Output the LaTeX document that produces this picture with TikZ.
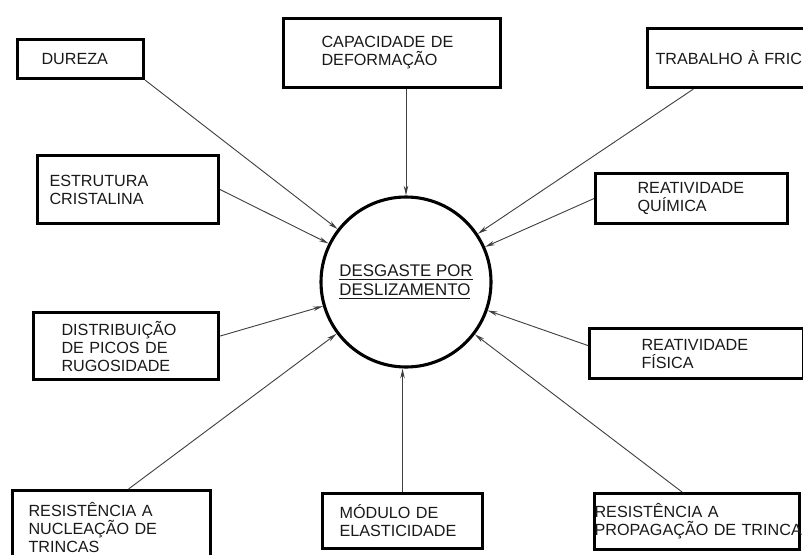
\documentclass[tikz,border=0pt]{standalone}
\usepackage{fontspec}
\setmainfont{Liberation Sans}
\usetikzlibrary{arrows.meta}
\newdimen\upx \upx=0.025cm
\tikzset{
  caixa/.style={draw, line width=2.2pt, anchor=north west, align=left, inner ysep=0pt,
    text=black!90, font=\fontsize{11.5}{12.8}\selectfont},
  tam/.style n args={4}{minimum width=#1\upx, minimum height=#2\upx, inner xsep=#3\upx, text width=#4\upx},
  seta/.style={-{Stealth[length=7pt,width=3.2pt]}, line width=0.65pt, draw=black!75},
}
\begin{document}
\begin{tikzpicture}[x=0.025cm, y=-0.025cm]
\useasboundingbox (0,0) rectangle (803,554);
\clip (0,0) rectangle (803,554);
% circulo central
\node[circle, draw, line width=2.2pt, minimum size=170\upx, align=left, text=black!90,
  font=\fontsize{12}{13.5}\selectfont] (desg) at (406,282)
  {\underline{DESGASTE POR}\\\underline{DESLIZAMENTO}};
% caixas em volta
\node[caixa, tam={126}{39}{24}{78}] (dureza) at (16,38) {DUREZA};
\node[caixa, tam={217}{69}{38}{141}] (cap) at (282,17) {CAPACIDADE DE\\DEFORMAÇÃO};
\node[caixa, tam={184}{59}{8}{168}] (trab) at (646,27) {TRABALHO À FRIC};
\node[caixa, tam={181}{68}{12}{157}] (estr) at (36,154) {ESTRUTURA\\CRISTALINA};
\node[caixa, tam={192}{50}{42}{108}] (quim) at (594,172) {REATIVIDADE\\QUÍMICA};
\node[caixa, tam={185}{67}{28}{129}] (distr) at (32,311) {DISTRIBUIÇÃO\\DE PICOS DE\\RUGOSIDADE};
\node[caixa, tam={214}{50}{52}{110}] (fis) at (588,327) {REATIVIDADE\\FÍSICA};
\node[caixa, tam={198}{74}{16}{166}] (nucl) at (11,489) {RESISTÊNCIA A\\NUCLEAÇÃO DE\\TRINCAS};
\node[caixa, tam={160}{55}{17}{126}] (mod) at (321,492) {MÓDULO DE\\ELASTICIDADE};
\node[caixa, tam={205}{56}{0}{205}] (prop) at (593,492) {RESISTÊNCIA A\\\mbox{PROPAGAÇÃO DE TRINCA}};
% setas
\draw[seta] (dureza.south east) -- (desg);
\draw[seta] (cap.south -| desg) -- (desg);
\draw[seta] (trab) -- (desg);
\draw[seta] (estr.east) -- (desg);
\draw[seta] (quim.west) -- (desg);
\draw[seta] ([yshift=10\upx]distr.east) -- (desg);
\draw[seta] ([xshift=17\upx]nucl.north) -- (desg);
\draw[seta] (mod.north) -- (mod.north |- desg.south);
\draw[seta] ([yshift=8\upx]fis.west) -- (desg);
\draw[seta] ([xshift=-15\upx]prop.north) -- (desg);
\end{tikzpicture}
\end{document}
